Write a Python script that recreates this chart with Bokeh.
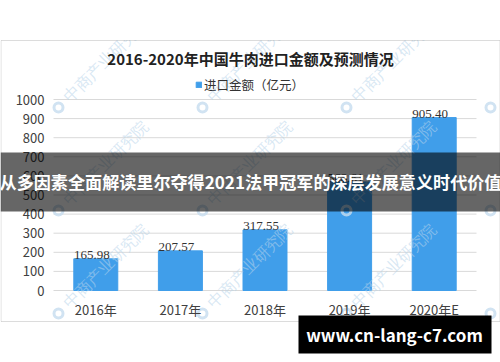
import math
from bokeh.plotting import figure
from bokeh.models import (Range1d, BoxAnnotation, Label, LabelSet, Legend, LegendItem,
                          ColumnDataSource, FixedTicker, LinearAxis)
from bokeh.embed import file_html
from bokeh.resources import INLINE

# ---- data ----
years = ["2016年", "2017年", "2018年", "2019年", "2020年E"]
import_value = [165.98, 207.57, 317.55, 568.61, 905.40]
value_labels = ["165.98", "207.57", "317.55", "568.61", "905.40"]
y_ticks = [0, 100, 200, 300, 400, 500, 600, 700, 800, 900, 1000]
title_text = "2016-2020年中国牛肉进口金额及预测情况"
legend_text = "进口金额（亿元）"
banner_text = "从多因素全面解读里尔夺得2021法甲冠军的深层发展意义时代价值"
site_text = "www.cn-lang-c7.com"
watermark_text = "中商产业研究院"

FONT = "Noto Sans CJK SC"
W, H = 500, 362
# plot area in canvas pixels
PL, PR, PT, PB = 53, 476, 99, 290
XS = (PR - PL) / len(years)      # px per category
YS = (PB - PT) / 1000.0          # px per unit


def dx(cx):
    return (cx - PL) / XS - 0.5


def dy(cy):
    return (PB - cy) / YS


xpos = list(range(len(years)))
src = ColumnDataSource(dict(x=xpos, val=import_value, lab=value_labels))

p = figure(width=W, height=H, x_range=Range1d(dx(0), dx(W)), y_range=Range1d(dy(H), dy(0)),
           x_axis_type=None, y_axis_type=None, output_backend="svg", toolbar_location=None,
           min_border=0)
p.background_fill_color = "white"
p.border_fill_color = "white"
p.outline_line_color = None

# grid lines
p.segment(x0=dx(PL), x1=dx(PR), y0=y_ticks, y1=y_ticks, line_color="#d9d9d9", line_width=1)

bars = p.vbar(x="x", top="val", width=0.52, source=src, color="#409EEA")

# axes at fixed locations inside the full-canvas frame
yax = LinearAxis(fixed_location=dx(PL), ticker=FixedTicker(ticks=y_ticks))
xax = LinearAxis(fixed_location=0, ticker=FixedTicker(ticks=xpos),
                 major_label_overrides={i: years[i] for i in xpos})
for ax in (xax, yax):
    ax.axis_line_color = None
    ax.major_tick_line_color = None
    ax.minor_tick_line_color = None
    ax.major_tick_out = 0
    ax.major_tick_in = 0
    ax.major_label_text_font = FONT
    ax.major_label_text_font_size = "13px"
    ax.major_label_text_color = "#404040"
    ax.major_label_standoff = 9
p.add_layout(yax, "left")
p.add_layout(xax, "below")

# faint watermark pattern (logo ring + rotated text)
lxs, lys, tx, ty = [], [], [], []
for ly in (107, 210, 313):
    for lx in (58, 202, 346, 490):
        lxs.append(dx(lx))
        lys.append(dy(ly))
        if lx < 480:
            tx.append(dx(lx + 8))
            ty.append(dy(ly - 8))
p.scatter(x=lxs, y=lys, marker="circle", size=9, fill_color=None,
          line_color="#c6dcef", line_width=3, line_alpha=0.8)
p.text(x=tx, y=ty, text=[watermark_text] * len(tx), angle=math.pi / 4,
       text_align="left", text_baseline="middle", text_font=FONT, text_font_size="16px",
       text_color="#b8d4ea", text_alpha=0.55)

# mask above the chart box
p.add_layout(BoxAnnotation(left=dx(0), right=dx(W), top=dy(0), bottom=dy(39.5),
                           fill_color="white", fill_alpha=1, line_color=None))

labels = LabelSet(x="x", y="val", text="lab", source=src, text_align="center",
                  text_baseline="bottom", y_offset=0, x_offset=-4,
                  text_font=FONT, text_font_size="13px", text_color="#333333")
p.add_layout(labels)

p.add_layout(Label(x=dx(250), y=dy(58), text=title_text, text_align="center",
                   text_baseline="middle", text_font=FONT, text_font_size="15px",
                   text_font_style="bold", text_color="#222222"))

legend = Legend(items=[LegendItem(label=legend_text, renderers=[bars])],
                location=(195, H - 94), orientation="horizontal",
                border_line_color=None, background_fill_alpha=0,
                glyph_width=7, glyph_height=7, label_standoff=2, padding=0, margin=0,
                label_text_font=FONT, label_text_font_size="12.5px",
                label_text_color="#333333")
p.add_layout(legend)

p.add_layout(BoxAnnotation(left=dx(0.5), right=dx(499.5), top=dy(40), bottom=dy(321),
                           fill_alpha=0, line_color="#8c8c8c", line_width=1))

p.add_layout(BoxAnnotation(left=dx(0), right=dx(W), top=dy(152), bottom=dy(211),
                           fill_color="black", fill_alpha=0.6, line_color=None))
p.add_layout(Label(x=dx(250), y=dy(181), text=banner_text, text_align="center",
                   text_baseline="middle", text_font=FONT, text_font_size="17.1px",
                   text_font_style="bold", text_color="white"))

p.add_layout(BoxAnnotation(left=dx(298), right=dx(491), top=dy(315), bottom=dy(353),
                           fill_color="black", fill_alpha=1, line_color=None))
p.add_layout(Label(x=dx(394), y=dy(334), text=site_text, text_align="center",
                   text_baseline="middle", text_font=FONT, text_font_size="17px",
                   text_font_style="bold", text_color="white"))

open("out.html", "w").write(file_html(p, INLINE))
